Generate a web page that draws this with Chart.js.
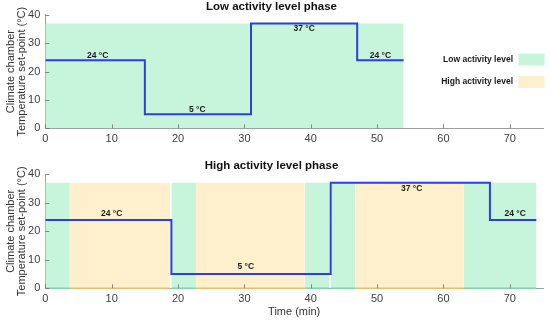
<!DOCTYPE html>
<html><head><meta charset="utf-8">
<script src="https://cdn.jsdelivr.net/npm/chart.js@4.4.1/dist/chart.umd.min.js"></script>
<style>
html,body{margin:0;padding:0;background:#fff;width:550px;height:320px;overflow:hidden}
canvas{position:absolute;left:0}
#c1{top:0}
#c2{top:150px}
</style></head><body>
<canvas id="c1" width="550" height="150"></canvas>
<canvas id="c2" width="550" height="170"></canvas>
<script>
// ---- data ----
const xTicks = [0, 10, 20, 30, 40, 50, 60, 70];
const yTicks = [0, 10, 20, 30, 40];
const bandTop = 37;

const lowTitle = 'Low activity level phase';
const lowTimes = [0, 15, 31, 47, 54];
const lowTemps = [24, 5, 37, 24, 24];
const lowBandStart = [0];
const lowBandEnd = [54];
const lowBandLevel = ['low'];
const lowLabelText = ['24 °C', '5 °C', '37 °C', '24 °C'];
const lowLabelX = [7.9, 22.9, 39, 50.5];
const lowLabelY = [25.6, 6.6, 35.3, 25.6];

const highTitle = 'High activity level phase';
const highTimes = [0, 19, 43, 67, 74];
const highTemps = [24, 5, 37, 24, 24];
const highBandStart = [0, 3.7, 19.0, 22.7, 39.1, 43.0, 46.7, 63.0];
const highBandEnd = [3.7, 18.8, 22.7, 39.1, 42.8, 46.7, 63.0, 74.0];
const highBandLevel = ['low', 'high', 'low', 'high', 'low', 'low', 'high', 'low'];
const highLabelText = ['24 °C', '5 °C', '37 °C', '24 °C'];
const highLabelX = [10, 30.2, 55.2, 70.8];
const highLabelY = [26.2, 7.5, 34.8, 26.2];

const legendLabels = ['Low activity level', 'High activity level'];
const legendLevels = ['low', 'high'];
const xTitle = 'Time (min)';
const yTitle = ['Climate chamber', 'Temperature set-point (°C)'];

// ---- styles ----
const FONT = "'Liberation Sans', Arial, sans-serif";
const levelFill = {low: '#c6f5dc', high: '#fef0cd'};
const levelEdge = {low: '#7ed6aa', high: '#e8bd6e'};
const lineBlue = '#2c3fe0';

function buildDatasets(times, temps, bs, be, bl, edges) {
  const ds = [];
  ds.push({
    type: 'line', data: times.map((t, i) => ({x: t, y: temps[i]})),
    stepped: 'before', borderColor: lineBlue, borderWidth: 2, pointRadius: 0,
    fill: false, order: 1, borderJoinStyle: 'miter', borderCapStyle: 'butt'
  });
  bs.forEach((s, i) => {
    ds.push({
      type: 'line', data: [{x: s, y: bandTop}, {x: be[i], y: bandTop}],
      backgroundColor: levelFill[bl[i]], borderWidth: 0, borderColor: 'rgba(0,0,0,0)',
      pointRadius: 0, fill: 'origin', order: 3
    });
    if (edges) {
      ds.push({
        type: 'line', data: [{x: s, y: 0}, {x: be[i], y: 0}],
        borderColor: levelEdge[bl[i]], borderWidth: 1.5, pointRadius: 0,
        fill: false, order: 2, clip: 3
      });
    }
  });
  return ds;
}

function makePlugin(labelText, labelX, labelY, withLegend) {
  return {
    id: 'extras',
    afterDatasetsDraw(chart) {
      const ctx = chart.ctx, xs = chart.scales.x, ys = chart.scales.y;
      const ca = chart.chartArea;
      ctx.save();
      // inward tick marks
      ctx.strokeStyle = 'rgba(110,110,110,0.8)';
      ctx.lineWidth = 1;
      xTicks.forEach(v => {
        const px = Math.round(xs.getPixelForValue(v)) + 0.5;
        ctx.beginPath(); ctx.moveTo(px, ca.bottom); ctx.lineTo(px, ca.bottom - 4); ctx.stroke();
      });
      yTicks.forEach(v => {
        const py = Math.round(ys.getPixelForValue(v)) + 0.5;
        ctx.beginPath(); ctx.moveTo(ca.left, py); ctx.lineTo(ca.left + 4, py); ctx.stroke();
      });
      // value labels
      ctx.fillStyle = '#1a1a1a';
      ctx.font = "bold 8.5px " + FONT;
      ctx.textAlign = 'center'; ctx.textBaseline = 'middle';
      labelText.forEach((t, i) => {
        ctx.fillText(t, xs.getPixelForValue(labelX[i]), ys.getPixelForValue(labelY[i]));
      });
      if (withLegend) {
        ctx.font = "bold 8.5px " + FONT;
        ctx.textAlign = 'right';
        const rows = [59.5, 82];
        legendLabels.forEach((t, i) => {
          ctx.fillStyle = '#1a1a1a';
          ctx.fillText(t, 513, rows[i]);
          ctx.fillStyle = levelFill[legendLevels[i]];
          ctx.fillRect(518.5, rows[i] - 6, 26, 12);
        });
      }
      ctx.restore();
    }
  };
}

function makeChart(id, title, titlePad, xH, showXTitle, datasets, plugin) {
  return new Chart(document.getElementById(id), {
    data: {datasets},
    options: {
      responsive: false, animation: false, events: [],
      layout: {padding: {left: 0, right: 7, top: 0, bottom: 0}},
      plugins: {
        legend: {display: false}, tooltip: {enabled: false},
        title: {display: true, text: title, color: '#111',
          font: {family: FONT, size: 11.5, weight: 'bold', lineHeight: 1.2},
          padding: titlePad}
      },
      scales: {
        x: {
          type: 'linear', min: 0, max: 75,
          afterBuildTicks: s => { s.ticks = xTicks.map(v => ({value: v})); },
          afterFit: s => { s.height = xH; },
          grid: {display: true, drawOnChartArea: false, drawTicks: false, color: 'rgba(0,0,0,0)'},
          border: {display: true, color: '#a0a0a0', width: 1},
          ticks: {color: '#404040', font: {family: FONT, size: 11}, padding: 4, maxRotation: 0},
          title: {display: showXTitle, text: xTitle, color: '#333',
            font: {family: FONT, size: 11}, padding: {top: 0, bottom: 1.5}}
        },
        y: {
          type: 'linear', min: 0, max: 40,
          afterBuildTicks: s => { s.ticks = yTicks.map(v => ({value: v})); },
          afterFit: s => { s.width = 45.3; },
          grid: {display: true, drawOnChartArea: false, drawTicks: false, color: 'rgba(0,0,0,0)'},
          border: {display: true, color: '#a0a0a0', width: 1},
          ticks: {color: '#404040', font: {family: FONT, size: 11}, padding: 5},
          title: {display: true, text: yTitle, color: '#333',
            font: {family: FONT, size: 11, lineHeight: 1.05}, padding: {top: 5, bottom: 0}}
        }
      }
    },
    plugins: [plugin]
  });
}

makeChart('c1', lowTitle, {top: 0, bottom: 1.2}, 21.7, false,
  buildDatasets(lowTimes, lowTemps, lowBandStart, lowBandEnd, lowBandLevel, false),
  makePlugin(lowLabelText, lowLabelX, lowLabelY, true));

makeChart('c2', highTitle, {top: 9.1, bottom: 1.4}, 31.7, true,
  buildDatasets(highTimes, highTemps, highBandStart, highBandEnd, highBandLevel, true),
  makePlugin(highLabelText, highLabelX, highLabelY, false));
</script>
</body></html>
